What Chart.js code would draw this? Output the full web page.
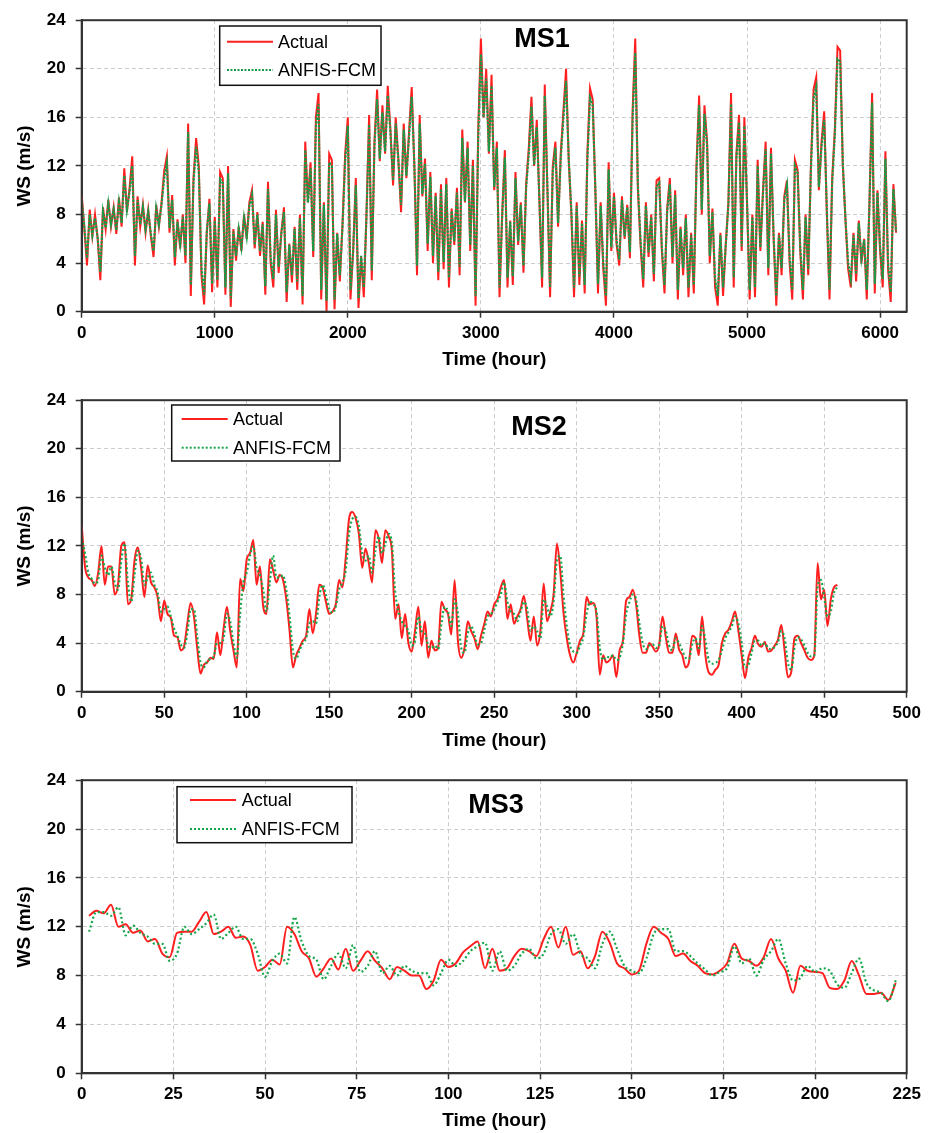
<!DOCTYPE html>
<html>
<head>
<meta charset="utf-8">
<title>WS forecasts MS1-MS3</title>
<script src="https://cdn.jsdelivr.net/npm/chart.js@4"></script>
<style>
  body { margin: 0; background: #fff; }
  .panel { position: absolute; left: 0; }
</style>
</head>
<body>
<div class="panel" style="top:0"><canvas id="ms1" width="936" height="380"></canvas></div>
<div class="panel" style="top:380px"><canvas id="ms2" width="936" height="380"></canvas></div>
<div class="panel" style="top:760px"><canvas id="ms3" width="936" height="373"></canvas></div>
<script>
// wind speed (m/s)
const wsTicks = [0, 4, 8, 12, 16, 20, 24];

// MS1: one value every 20 hours, from hour 0
const ms1Start = 0, ms1Step = 20;
const ms1Ticks = [0, 1000, 2000, 3000, 4000, 5000, 6000];
const ms1Actual = [
  9.6, 6.8, 3.8, 8.4, 6.2, 8.0, 6.0, 2.6, 8.6, 6.8,
  9.2, 7.0, 8.6, 6.4, 9.4, 7.0, 11.8, 8.2, 10.2, 12.8,
  3.8, 9.5, 7.0, 8.8, 6.5, 8.4, 6.2, 4.5, 8.8, 7.0,
  9.0, 11.6, 12.8, 6.5, 9.6, 3.8, 7.6, 5.2, 8.0, 4.0,
  15.5, 1.3, 11.0, 14.3, 12.0, 3.0, 0.6, 6.5, 9.3, 1.6,
  7.8, 2.0, 11.5, 11.0, 1.4, 12.0, 0.4, 6.8, 4.2, 7.0,
  5.0, 8.0, 6.0, 9.0, 10.0, 5.2, 8.2, 4.6, 7.4, 1.4,
  10.7, 4.0, 2.0, 8.4, 3.2, 6.5, 8.6, 0.8, 5.6, 2.4,
  7.0, 1.8, 8.0, 0.6, 14.0, 9.0, 12.3, 4.5, 16.0, 18.0,
  1.0, 9.0, 0.0, 13.0, 12.5, 0.2, 6.5, 2.5, 7.2, 13.0,
  16.0, 1.0, 5.0, 11.0, 0.3, 4.5, 1.2, 8.0, 16.2, 2.6,
  14.0, 18.3, 12.4, 17.0, 13.0, 18.6, 15.0, 10.4, 16.0, 12.5,
  8.2, 15.5, 11.0, 14.8, 18.5, 12.0, 3.0, 16.2, 9.5, 12.6,
  5.0, 11.5, 4.0, 9.8, 2.6, 10.5, 3.5, 11.0, 2.0, 8.5,
  5.5, 10.2, 3.0, 15.0, 9.0, 14.0, 5.0, 12.5, 0.5, 15.0,
  22.5, 16.0, 20.0, 13.0, 19.5, 10.0, 14.0, 1.2, 8.0, 13.3,
  2.0, 7.5, 2.2, 11.5, 5.5, 9.0, 3.2, 10.5, 13.5, 17.7,
  12.0, 15.8, 9.0, 2.0, 18.7, 10.0, 1.2, 12.0, 14.0, 7.0,
  13.0, 16.5, 20.0, 12.5, 8.0, 1.2, 9.0, 2.2, 7.5, 1.5,
  13.0, 18.4, 17.5, 10.0, 1.5, 9.0, 3.5, 0.5, 12.3, 5.0,
  9.8, 5.5, 3.8, 9.5, 6.0, 8.8, 4.4, 16.5, 22.5, 10.0,
  5.5, 2.0, 9.0, 4.5, 8.0, 2.5, 10.8, 11.0, 5.0, 1.5,
  8.5, 11.0, 4.0, 10.0, 1.0, 7.0, 3.0, 8.0, 1.2, 6.5,
  1.5, 12.0, 17.8, 8.0, 17.0, 14.0, 4.0, 8.5, 2.0, 0.5,
  6.5, 1.3, 5.5, 9.0, 18.0, 2.0, 13.0, 16.2, 5.0, 16.0,
  9.0, 1.0, 8.0, 1.2, 12.5, 5.0, 10.0, 14.0, 3.0, 13.5,
  6.0, 0.5, 6.5, 3.0, 9.5, 10.8, 4.0, 1.0, 12.5, 11.7,
  5.0, 1.0, 8.0, 3.0, 12.0, 18.3, 19.3, 10.0, 14.0, 16.5,
  8.0, 1.0, 11.0, 15.0, 21.8, 21.5, 12.0, 7.5, 3.5, 2.0,
  6.5, 2.5, 7.5, 4.0, 6.0, 1.0, 9.0, 18.0, 1.5, 10.0,
  5.0, 2.0, 13.2, 3.5, 0.8, 10.5, 6.5
];
const ms1Anfis = [
  9.2, 7.0, 4.4, 8.0, 6.3, 7.7, 6.1, 3.3, 8.2, 6.9,
  8.9, 7.2, 8.4, 6.7, 9.0, 7.3, 11.2, 8.4, 9.9, 12.0,
  4.6, 9.2, 7.2, 8.6, 6.8, 8.2, 6.4, 5.0, 8.5, 7.2,
  8.8, 11.0, 12.2, 6.9, 9.2, 4.5, 7.4, 5.6, 7.8, 4.6,
  14.8, 2.2, 10.6, 13.6, 11.5, 3.6, 1.4, 6.6, 8.9, 2.3,
  7.5, 2.6, 10.9, 10.6, 2.0, 11.4, 1.1, 6.6, 4.6, 6.8,
  5.3, 7.7, 6.2, 8.7, 9.6, 5.5, 8.0, 5.0, 7.2, 2.1,
  10.1, 4.5, 2.7, 8.0, 3.7, 6.4, 8.2, 1.6, 5.5, 3.0,
  6.8, 2.5, 7.7, 1.3, 13.3, 9.0, 11.8, 5.0, 15.3, 17.1,
  1.8, 8.8, 0.9, 12.3, 12.0, 1.0, 6.4, 3.0, 7.0, 12.4,
  15.3, 1.8, 5.0, 10.4, 1.1, 4.6, 2.0, 7.8, 15.4, 3.4,
  13.6, 17.5, 12.6, 16.4, 13.2, 17.8, 14.8, 10.8, 15.5, 12.4,
  8.8, 15.0, 11.2, 14.4, 17.7, 12.1, 3.8, 15.5, 9.7, 12.2,
  5.6, 11.1, 4.6, 9.5, 3.3, 10.1, 4.1, 10.5, 2.8, 8.3,
  5.8, 9.8, 3.7, 14.3, 9.1, 13.5, 5.5, 12.0, 1.3, 14.4,
  21.2, 16.0, 19.2, 13.2, 18.6, 10.3, 13.5, 2.0, 7.9, 12.7,
  2.8, 7.4, 2.9, 11.0, 5.8, 8.8, 3.8, 10.2, 13.0, 16.9,
  12.1, 15.2, 9.2, 2.8, 17.8, 10.2, 2.0, 11.5, 13.5, 7.3,
  12.6, 15.9, 19.0, 12.6, 8.3, 2.0, 8.7, 2.9, 7.3, 2.2,
  12.4, 17.6, 17.0, 10.2, 2.3, 8.7, 4.0, 1.3, 11.7, 5.3,
  9.5, 5.8, 4.3, 9.2, 6.2, 8.6, 4.9, 15.8, 21.3, 10.4,
  5.8, 2.7, 8.7, 4.9, 7.8, 3.1, 10.3, 10.6, 5.3, 2.2,
  8.2, 10.5, 4.5, 9.6, 1.8, 6.8, 3.6, 7.7, 2.0, 6.3,
  2.2, 11.5, 17.0, 8.4, 16.3, 13.7, 4.6, 8.2, 2.7, 1.3,
  6.3, 2.0, 5.4, 8.8, 17.1, 2.8, 12.6, 15.6, 5.4, 15.3,
  9.1, 1.8, 7.8, 2.0, 12.0, 5.3, 9.7, 13.4, 3.6, 13.0,
  6.2, 1.3, 6.3, 3.6, 9.2, 10.4, 4.5, 1.8, 12.0, 11.4,
  5.3, 1.8, 7.8, 3.5, 11.6, 17.6, 18.5, 10.3, 13.6, 15.8,
  8.3, 1.8, 10.6, 14.6, 20.8, 20.6, 12.2, 7.6, 4.0, 2.7,
  6.3, 3.1, 7.3, 4.4, 5.9, 1.8, 8.8, 17.2, 2.3, 9.8,
  5.3, 2.7, 12.6, 4.0, 1.6, 10.1, 6.6
];

// MS2: one value every 2 hours, from hour 0
const ms2Start = 0, ms2Step = 2;
const ms2Ticks = [0, 50, 100, 150, 200, 250, 300, 350, 400, 450, 500];
const ms2Actual = [
  13.7, 10.3, 9.4, 9.2, 8.7, 9.8, 12.0, 8.8, 10.3, 10.3,
  8.0, 8.8, 12.0, 12.3, 7.2, 7.6, 10.8, 11.9, 10.2, 7.8,
  10.4, 9.0, 8.6, 7.8, 5.8, 7.5, 6.4, 6.1, 4.6, 4.5,
  3.4, 3.7, 5.6, 7.3, 6.2, 3.6, 1.5, 2.2, 2.4, 2.8,
  2.7, 4.9, 3.0, 5.2, 7.0, 5.0, 3.4, 2.0, 9.3, 8.3,
  10.9, 11.4, 12.5, 8.8, 10.3, 7.0, 6.4, 10.9, 10.0, 9.0,
  9.6, 9.2, 7.6, 5.0, 2.0, 3.0, 3.6, 4.2, 4.6, 6.8,
  4.8, 6.4, 8.8, 8.6, 7.4, 6.4, 6.6, 7.2, 9.2, 8.6,
  11.0, 14.2, 14.8, 14.3, 13.0, 10.2, 11.8, 10.6, 9.0, 13.3,
  12.6, 10.6, 13.3, 12.8, 11.6, 6.0, 7.2, 4.4, 6.4, 4.0,
  3.3, 5.0, 7.0, 3.8, 5.8, 2.8, 4.2, 3.4, 3.6, 7.4,
  6.8, 6.4, 4.7, 9.2, 4.2, 2.8, 3.6, 5.8, 5.0, 4.4,
  3.5, 4.6, 5.6, 6.6, 6.2, 7.2, 7.6, 8.6, 9.2, 6.0,
  7.2, 5.6, 6.2, 6.8, 7.9, 6.0, 4.2, 6.2, 3.8, 5.0,
  8.9, 5.8, 6.6, 8.0, 12.2, 10.0, 6.5, 4.4, 3.0, 2.4,
  3.2, 4.2, 4.8, 7.8, 7.2, 7.3, 6.2, 1.4, 3.0, 2.4,
  2.6, 3.0, 1.2, 3.4, 4.2, 7.5, 7.8, 8.4, 7.2, 4.6,
  3.2, 3.2, 4.0, 3.7, 3.3, 3.9, 6.2, 4.5, 3.2, 3.2,
  4.8, 3.5, 3.0, 2.0, 2.4, 4.6, 4.4, 3.0, 6.2, 3.0,
  1.6, 1.4, 1.8, 2.2, 4.0, 4.8, 5.1, 5.8, 6.6, 5.0,
  3.0, 1.1, 2.8, 3.6, 4.6, 3.9, 3.7, 4.1, 3.3, 3.4,
  3.8, 4.3, 5.5, 3.4, 1.2, 1.6, 4.4, 4.6, 4.0, 3.4,
  2.8, 2.6, 3.0, 10.6, 7.6, 8.4, 5.4, 7.6, 8.6, 8.8
];
const ms2Anfis = [
  12.6, 11.4, 9.8, 9.3, 8.9, 9.2, 11.2, 10.2, 9.6, 10.3,
  9.0, 8.4, 10.8, 12.2, 9.0, 7.4, 9.6, 11.6, 11.0, 8.8,
  9.4, 9.8, 8.8, 8.2, 6.6, 6.8, 7.0, 6.2, 5.2, 4.6,
  3.9, 3.6, 4.8, 6.8, 6.8, 4.6, 2.4, 2.0, 2.5, 2.7,
  2.9, 4.0, 4.0, 4.4, 6.4, 5.8, 4.0, 2.8, 6.4, 9.0,
  9.8, 11.2, 12.0, 10.2, 9.6, 8.4, 6.6, 9.0, 11.2, 9.4,
  9.4, 9.6, 8.4, 6.2, 3.4, 2.7, 3.4, 4.0, 4.4, 5.6,
  5.8, 5.6, 7.8, 8.8, 8.0, 6.8, 6.5, 7.0, 8.4, 9.0,
  10.0, 13.0, 14.2, 14.4, 13.6, 11.4, 10.8, 11.2, 9.8, 11.6,
  12.8, 11.4, 12.2, 13.0, 12.2, 8.2, 6.6, 5.8, 5.4, 5.0,
  3.8, 4.2, 6.2, 5.0, 4.8, 3.8, 3.6, 3.8, 3.5, 5.6,
  7.0, 6.6, 5.4, 7.6, 6.4, 3.6, 3.2, 4.8, 5.4, 4.7,
  3.9, 4.0, 5.1, 6.2, 6.4, 6.8, 7.4, 8.0, 9.0, 7.4,
  6.6, 6.4, 5.8, 6.6, 7.4, 6.8, 5.0, 5.4, 5.0, 4.4,
  7.6, 7.0, 6.2, 7.4, 10.8, 11.2, 8.0, 5.4, 3.8, 3.3,
  3.2, 3.8, 4.5, 6.4, 7.4, 7.2, 6.6, 3.6, 2.6, 2.9,
  2.8, 3.0, 2.6, 2.8, 4.0, 6.4, 7.4, 8.0, 7.6, 5.6,
  4.0, 3.5, 3.8, 3.9, 3.6, 3.8, 5.4, 5.0, 3.8, 3.4,
  4.4, 4.0, 3.4, 2.8, 2.7, 3.9, 4.4, 3.6, 5.4, 4.2,
  2.6, 2.3, 2.4, 2.6, 3.4, 4.4, 4.9, 5.4, 6.2, 5.6,
  4.0, 2.0, 2.2, 3.2, 4.2, 4.2, 3.8, 4.0, 3.6, 3.5,
  3.7, 4.1, 5.0, 4.4, 2.4, 1.8, 3.6, 4.5, 4.3, 3.8,
  3.2, 2.9, 3.0, 8.6, 9.2, 7.8, 6.2, 6.6, 8.2, 8.6
];

// MS3: one value every 2 hours, from hour 2
const ms3Start = 2, ms3Step = 2;
const ms3Ticks = [0, 25, 50, 75, 100, 125, 150, 175, 200, 225];
const ms3Actual = [
  12.9, 13.3, 13.1, 13.8, 12.0, 12.2, 11.5, 11.7, 10.8, 11.0,
  9.8, 9.5, 11.5, 11.6, 11.6, 12.4, 13.2, 11.4, 11.6, 12.0,
  11.1, 11.2, 10.5, 8.4, 8.7, 9.3, 8.9, 12.0, 11.4, 10.0,
  9.4, 7.9, 8.6, 9.4, 8.5, 10.2, 8.4, 9.2, 10.0, 9.2,
  8.6, 7.7, 8.7, 8.4, 8.0, 8.0, 6.9, 7.6, 9.3, 8.7,
  9.0, 9.9, 10.4, 10.8, 8.6, 10.2, 8.4, 8.6, 9.6, 10.2,
  10.0, 9.6, 11.0, 12.0, 10.3, 12.0, 9.7, 10.0, 8.6, 9.6,
  11.6, 10.7, 9.0, 8.6, 8.1, 8.4, 10.6, 12.0, 11.5, 11.0,
  9.6, 9.8, 9.2, 8.8, 8.2, 8.1, 8.4, 9.0, 10.6, 9.4,
  9.2, 8.8, 9.5, 11.0, 9.4, 8.4, 6.6, 8.8, 8.4, 8.3,
  8.2, 7.0, 6.9, 7.6, 9.2, 8.0, 6.5, 6.5, 6.6, 6.0,
  7.4
];
const ms3Anfis = [
  11.6, 13.2, 13.2, 12.9, 13.6, 11.3, 12.1, 11.5, 11.2, 10.6,
  10.6, 9.2, 9.8, 12.0, 11.4, 11.8, 12.3, 13.0, 11.0, 11.5,
  12.0, 11.0, 11.0, 9.8, 7.9, 9.2, 9.8, 9.0, 12.8, 10.8,
  9.6, 9.3, 7.7, 8.8, 9.8, 8.6, 10.5, 8.3, 8.8, 10.0,
  8.2, 8.8, 8.0, 8.8, 8.4, 8.2, 8.2, 7.2, 8.2, 9.3,
  8.8, 9.2, 10.0, 10.4, 10.7, 8.4, 10.0, 8.4, 8.8, 9.8,
  10.2, 9.4, 9.8, 11.4, 11.8, 10.6, 11.4, 9.8, 9.4, 8.6,
  10.6, 11.6, 10.2, 8.8, 8.4, 8.2, 9.4, 11.4, 11.8, 11.8,
  10.0, 10.0, 9.6, 9.0, 8.5, 8.0, 8.3, 8.6, 10.4, 9.0,
  9.4, 8.0, 9.3, 10.0, 11.0, 9.0, 7.6, 7.8, 8.8, 8.3,
  8.6, 8.4, 7.3, 7.0, 8.2, 9.4, 7.4, 6.8, 6.6, 5.9,
  7.6
];

const FONT = "'Liberation Sans', Arial, Helvetica, sans-serif";
const RED = '#ff1f1f';
const GREEN = '#16a64a';

function toPoints(values, start, step) {
  return values.map((v, i) => ({ x: start + i * step, y: v }));
}

function makePanel(id, p) {
  const a = p.area;
  const decor = {
    id: 'decor',
    afterDraw(chart) {
      const ctx = chart.ctx;
      const ca = chart.chartArea;
      ctx.save();
      // box round the plot
      ctx.strokeStyle = '#333';
      ctx.lineWidth = 2;
      ctx.strokeRect(ca.left, ca.top, ca.right - ca.left, ca.bottom - ca.top);
      // station name
      ctx.fillStyle = '#000';
      ctx.font = 'bold 27px ' + FONT;
      ctx.textAlign = 'center';
      ctx.textBaseline = 'middle';
      ctx.fillText(p.title, p.titleX, p.titleY);
      // legend
      const L = p.legend;
      ctx.fillStyle = '#fff';
      ctx.fillRect(L.x, L.y, L.w, L.h);
      ctx.strokeStyle = '#111';
      ctx.lineWidth = 1.5;
      ctx.strokeRect(L.x, L.y, L.w, L.h);
      chart.data.datasets.forEach((ds, i) => {
        const y = L.y + L.rows[i];
        ctx.beginPath();
        ctx.setLineDash(p.legendDash[i]);
        ctx.strokeStyle = ds.borderColor;
        ctx.lineWidth = 2;
        ctx.moveTo(L.x + L.s0, y);
        ctx.lineTo(L.x + L.s1, y);
        ctx.stroke();
        ctx.setLineDash([]);
        ctx.fillStyle = '#000';
        ctx.font = '18px ' + FONT;
        ctx.textAlign = 'left';
        ctx.fillText(ds.label, L.x + L.tx, y + 1);
      });
      ctx.restore();
    }
  };

  const smooth = p.smooth ? { cubicInterpolationMode: 'monotone' } : { tension: 0 };

  new Chart(document.getElementById(id), {
    type: 'line',
    data: {
      datasets: [
        Object.assign({
          label: 'Actual',
          data: toPoints(p.actual, p.start, p.step),
          borderColor: RED,
          borderWidth: p.redWidth,
          pointRadius: 0,
          order: 1
        }, smooth),
        Object.assign({
          label: 'ANFIS-FCM',
          data: toPoints(p.anfis, p.start, p.step),
          borderColor: p.green,
          borderWidth: p.greenWidth,
          borderDash: p.dash,
          pointRadius: 0,
          order: 0
        }, smooth)
      ]
    },
    options: {
      responsive: false,
      animation: false,
      events: [],
      layout: { padding: { top: a.top, right: 936 - a.right, left: 0, bottom: 0 } },
      plugins: { legend: { display: false }, tooltip: { enabled: false } },
      scales: {
        x: {
          type: 'linear',
          min: 0,
          max: p.xMax,
          afterBuildTicks: s => { s.ticks = p.xTicks.map(v => ({ value: v })); },
          afterFit: s => { s.height = p.height - a.bottom; },
          ticks: {
            maxRotation: 0,
            autoSkip: false,
            padding: 5,
            color: '#000',
            callback: v => String(v),
            font: { family: FONT, size: 17, weight: 'bold' }
          },
          grid: { color: '#cccccc', lineWidth: 1, tickLength: 6, tickColor: '#333', tickWidth: 1.5 },
          border: { color: '#333', width: 2, dash: [4, 3] },
          title: {
            display: true,
            text: 'Time (hour)',
            color: '#000',
            font: { family: FONT, size: 19, weight: 'bold' },
            padding: { top: 0, bottom: p.xTitlePad }
          }
        },
        y: {
          min: 0,
          max: 24,
          afterBuildTicks: s => { s.ticks = wsTicks.map(v => ({ value: v })); },
          afterFit: s => { s.width = a.left; },
          ticks: {
            padding: 10,
            color: '#000',
            callback: v => String(v),
            font: { family: FONT, size: 17, weight: 'bold' }
          },
          grid: { color: '#cccccc', lineWidth: 1, tickLength: 6, tickColor: '#333', tickWidth: 1.5 },
          border: { color: '#333', width: 2, dash: [4, 3] },
          title: {
            display: true,
            text: 'WS (m/s)',
            color: '#000',
            font: { family: FONT, size: 19, weight: 'bold' },
            padding: { top: 13.6, bottom: 0 }
          }
        }
      }
    },
    plugins: [decor]
  });
}

makePanel('ms1', {
  height: 380,
  area: { left: 81.7, top: 16.7, right: 906.7, bottom: 311.7 },
  actual: ms1Actual, anfis: ms1Anfis, start: ms1Start, step: ms1Step,
  xMax: 6200, xTicks: ms1Ticks, xTitlePad: 8.6,
  smooth: false, redWidth: 2, greenWidth: 2.2, dash: [2.5, 1.2], green: '#189a48',
  legendDash: [[], [2, 1.5]],
  title: 'MS1', titleX: 542, titleY: 40,
  legend: { x: 219.7, y: 26, w: 161.3, h: 59.3, s0: 7.3, s1: 53.3, tx: 58.3, rows: [15.7, 44] }
});

makePanel('ms2', {
  height: 380,
  area: { left: 81.7, top: 16.7, right: 906.7, bottom: 311.7 },
  actual: ms2Actual, anfis: ms2Anfis, start: ms2Start, step: ms2Step,
  xMax: 500, xTicks: ms2Ticks, xTitlePad: 7.6,
  smooth: true, redWidth: 2, greenWidth: 2.2, dash: [2, 2.5], green: GREEN,
  legendDash: [[], [2, 2]],
  title: 'MS2', titleX: 539, titleY: 47.7,
  legend: { x: 171.7, y: 25, w: 168.3, h: 56, s0: 10, s1: 56, tx: 61.3, rows: [14, 42.7] }
});

makePanel('ms3', {
  height: 373,
  area: { left: 81.7, top: 18.3, right: 906.7, bottom: 313.3 },
  actual: ms3Actual, anfis: ms3Anfis, start: ms3Start, step: ms3Step,
  xMax: 225, xTicks: ms3Ticks, xTitlePad: 0.9,
  smooth: true, redWidth: 2, greenWidth: 2.2, dash: [2, 2.5], green: GREEN,
  legendDash: [[], [2, 2]],
  title: 'MS3', titleX: 496, titleY: 46,
  legend: { x: 177, y: 26.7, w: 175, h: 56, s0: 13, s1: 59, tx: 64.7, rows: [13.3, 42.3] }
});
</script>
</body>
</html>
